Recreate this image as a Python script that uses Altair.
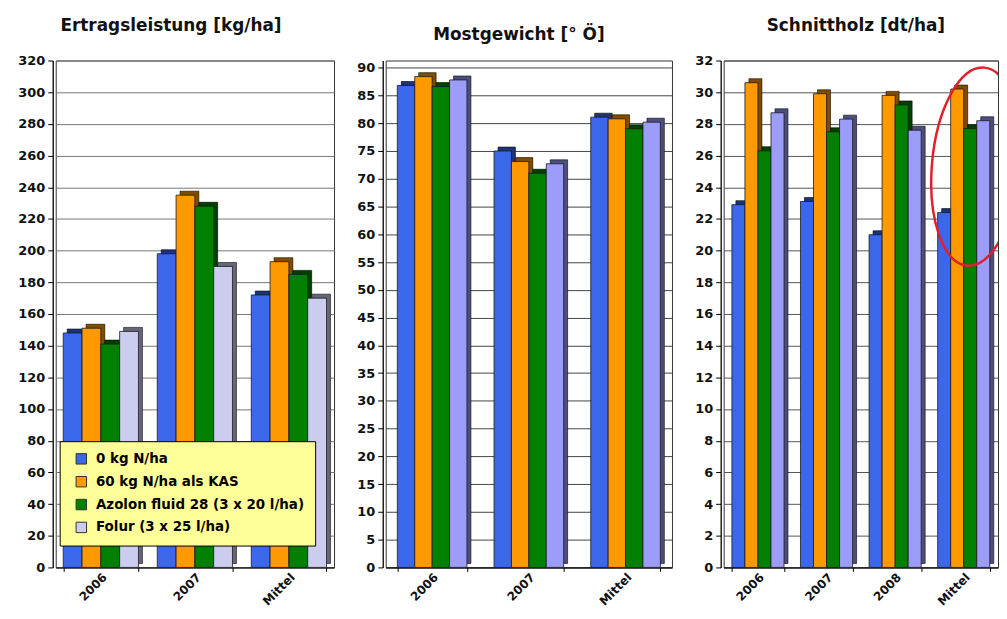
import altair as alt
import pandas as pd

series = ["0 kg N/ha", "60 kg N/ha als KAS", "Azolon fluid 28 (3 x 20 l/ha)", "Folur (3 x 25 l/ha)"]

# Ertragsleistung [kg/ha]
cats_ertrag = ["2006", "2007", "Mittel"]
ertrag_0kg = [148, 198, 172]
ertrag_60kg = [151, 235, 193]
ertrag_azolon = [141, 228, 185]
ertrag_folur = [149, 190, 170]

# Mostgewicht [° Ö]
cats_most = ["2006", "2007", "Mittel"]
most_0kg = [86.8, 75.0, 81.1]
most_60kg = [88.4, 73.1, 80.8]
most_azolon = [86.6, 71.0, 79.0]
most_folur = [87.8, 72.7, 80.2]

# Schnittholz [dt/ha]
cats_holz = ["2006", "2007", "2008", "Mittel"]
holz_0kg = [22.9, 23.1, 21.0, 22.4]
holz_60kg = [30.6, 29.9, 29.8, 30.2]
holz_azolon = [26.3, 27.5, 29.2, 27.7]
holz_folur = [28.7, 28.3, 27.6, 28.2]

ticks_ertrag = list(range(0, 321, 20))
ticks_most = list(range(0, 91, 5))
ticks_holz = list(range(0, 33, 2))

highlight_cat = ["Mittel"]
highlight_value = [25.3]

FONT = "DejaVu Sans"
colors_a = ["#3B67EA", "#FF9900", "#007F00", "#CCCCEE"]
colors_b = ["#3B67EA", "#FF9900", "#007F00", "#9C9CFA"]

ELLIPSE = ("M0,-1C0.243,-1,0.44,-0.552,0.44,0C0.44,0.552,0.243,1,0,1"
           "C-0.243,1,-0.44,0.552,-0.44,0C-0.44,-0.552,-0.243,-1,0,-1Z")


def long_df(cats, lists):
    rows = []
    for s, vals in zip(series, lists):
        for c, v in zip(cats, vals):
            rows.append({"cat": c, "series": s, "value": v})
    return pd.DataFrame(rows)


def panel(df, cats, title, W, H, pi, po, ymax, ticks, colors, legend,
          title_offset, title_dx, grid_color, ellipse=False):
    n = len(cats)
    step = W / (n - pi + 2 * po)
    bw = step * (1 - pi)
    d = 4
    xs = alt.Scale(domain=cats, paddingInner=pi, paddingOuter=po)
    xaxis = alt.Axis(title=None, labelAngle=-45, tickBand="extent", tickSize=4,
                     labelPadding=0, domainColor="#000", tickColor="#000",
                     labelFont=FONT, labelFontSize=12, labelFontWeight="bold",
                     labelColor="#111", grid=False)
    yaxis = alt.Axis(values=ticks, title=None, offset=3, tickSize=5, labelPadding=3,
                     grid=True, gridColor=grid_color, gridWidth=1, domainColor="#000",
                     domainWidth=1.3, tickColor="#000", labelFont=FONT,
                     labelFontSize=13, labelFontWeight="bold", labelColor="#111")
    ys = alt.Scale(domain=[0, ymax], nice=False, zero=True)
    x = alt.X("cat:N", sort=cats, scale=xs, axis=xaxis)
    y = alt.Y("value:Q", scale=ys, axis=yaxis)
    cscale = alt.Scale(domain=series, range=colors)

    def xoff(lo):
        return alt.XOffset("series:N", sort=series,
                           scale=alt.Scale(domain=series, range=[lo, bw + lo],
                                           paddingInner=0, paddingOuter=0))

    shadow = alt.Chart(df).mark_bar(yOffset=-d, stroke="#111", strokeWidth=0.6).encode(
        x=x, xOffset=xoff(d), y=y,
        color=alt.Color("series:N", sort=series, scale=cscale, legend=legend),
    )
    shade = alt.Chart(df).mark_bar(yOffset=-d, fill="#000", fillOpacity=0.5,
                                   strokeWidth=0).encode(
        x=x, xOffset=xoff(d), y=y,
    )
    main = alt.Chart(df).mark_bar(stroke="#1a1a1a", strokeWidth=0.8).encode(
        x=x, xOffset=xoff(0), y=y,
        color=alt.Color("series:N", sort=series, scale=cscale, legend=legend),
    )
    layers = [shadow, shade, main]
    if ellipse:
        edf = pd.DataFrame({"cat": highlight_cat, "value": highlight_value})
        ell = alt.Chart(edf).mark_point(shape=ELLIPSE, size=40000, filled=False,
                                        stroke="#E0202A", strokeWidth=2.5, opacity=1,
                                        angle=5, clip=True, xOffset=12).encode(x=x, y=y)
        layers.append(ell)
    return alt.layer(*layers).resolve_scale(xOffset="independent").properties(
        width=W, height=H,
        title=alt.TitleParams(title, font=FONT, fontSize=17, fontWeight="bold",
                              anchor="middle", offset=title_offset, dx=title_dx,
                              color="#111"),
    )


legend1 = alt.Legend(title=None, orient="none", legendX=4, legendY=383,
                     direction="vertical", fillColor="#FFFF99", strokeColor="#000",
                     padding=11, rowPadding=8, symbolType="square", symbolSize=110,
                     symbolStrokeColor="#333", symbolStrokeWidth=1, labelFont=FONT,
                     labelFontSize=13.5, labelFontWeight="bold", labelColor="#000",
                     labelLimit=400, symbolOffset=4, labelOffset=8)

H = 510
p1 = panel(long_df(cats_ertrag, [ertrag_0kg, ertrag_60kg, ertrag_azolon, ertrag_folur]),
           cats_ertrag, "Ertragsleistung [kg/ha]", 280, H, 0.2, 0.08, 320, ticks_ertrag,
           colors_a, legend1, 20, -24, "#777")
p2 = panel(long_df(cats_most, [most_0kg, most_60kg, most_azolon, most_folur]),
           cats_most, "Mostgewicht [° Ö]", 288, H, 0.28, 0.12, 91.3, ticks_most,
           colors_b, None, 17, -10, "#444")
p3 = panel(long_df(cats_holz, [holz_0kg, holz_60kg, holz_azolon, holz_folur]),
           cats_holz, "Schnittholz [dt/ha]", 276, H, 0.24, 0.12, 32, ticks_holz,
           colors_b, None, 20, -5, "#555", ellipse=True)

chart = alt.hconcat(p1, p2, p3, spacing=21).resolve_scale(
    color="independent", xOffset="independent"
).configure(
    padding={"left": 9, "top": 6, "right": 0, "bottom": 0},
    background="white",
).configure_view(stroke="#333", strokeWidth=1)

chart.save("out.html", embed_options={"renderer": "svg", "actions": False})
